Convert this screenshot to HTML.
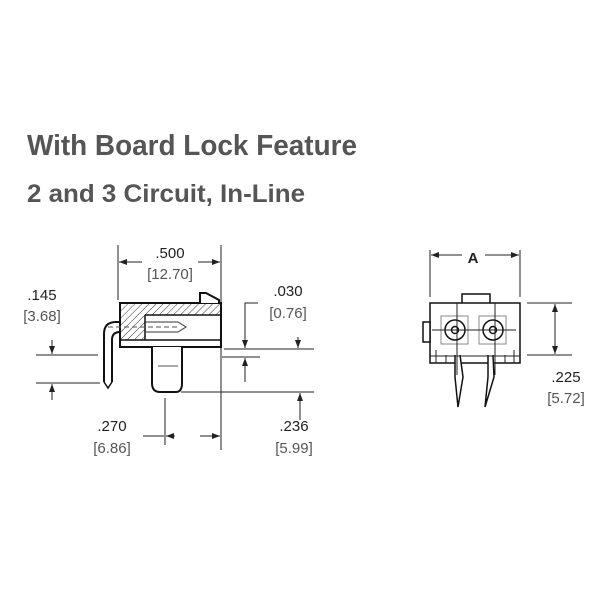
<!DOCTYPE html>
<html><head><style>body{margin:0;background:#fff}svg{display:block}</style></head><body>
<svg width="600" height="600" xmlns="http://www.w3.org/2000/svg" font-family="Liberation Sans, sans-serif">
<defs>
<pattern id="h" width="5" height="5" patternUnits="userSpaceOnUse" patternTransform="rotate(45)"><line x1="0" y1="0" x2="0" y2="5" stroke="#333" stroke-width="1"/></pattern>
<marker id="a" markerWidth="8" markerHeight="6" refX="8" refY="3" orient="auto"><path d="M0,0 L8,3 L0,6z" fill="#222"/></marker>
</defs>
<text x="27" y="155" font-size="29" font-weight="bold" fill="#555" textLength="330" lengthAdjust="spacingAndGlyphs" font-family="Liberation Sans Narrow, Liberation Sans, sans-serif">With Board Lock Feature</text>
<text x="27" y="202" font-size="25" font-weight="bold" fill="#555" textLength="278" lengthAdjust="spacingAndGlyphs" font-family="Liberation Sans Narrow, Liberation Sans, sans-serif">2 and 3 Circuit, In-Line</text>
<g stroke="#222" stroke-width="1" fill="none">
<!-- left view dims -->
<line x1="118" y1="245" x2="118" y2="300"/><line x1="221" y1="245" x2="221" y2="450"/>
<line x1="142" y1="262" x2="119" y2="262" marker-end="url(#a)"/><line x1="198" y1="262" x2="220" y2="262" marker-end="url(#a)"/>
<line x1="36" y1="355" x2="98" y2="355"/><line x1="36" y1="383" x2="100" y2="383"/>
<line x1="52" y1="340" x2="52" y2="354" marker-end="url(#a)"/><line x1="52" y1="400" x2="52" y2="384" marker-end="url(#a)"/>
<line x1="224" y1="349" x2="314" y2="349"/><line x1="222" y1="357" x2="260" y2="357"/>
<polyline points="258,303 245,303 245,348" marker-end="url(#a)"/>
<line x1="245" y1="382" x2="245" y2="358" marker-end="url(#a)"/>
<line x1="298" y1="337" x2="298" y2="348" marker-end="url(#a)"/>
<line x1="181" y1="392" x2="314" y2="392"/>
<line x1="300" y1="420" x2="300" y2="393" marker-end="url(#a)"/>
<line x1="165" y1="398" x2="165" y2="445"/>
<line x1="143" y1="436" x2="164" y2="436"/>
<line x1="175" y1="436" x2="166" y2="436" marker-end="url(#a)"/><line x1="200" y1="436" x2="220" y2="436" marker-end="url(#a)"/>
</g>
<!-- housing -->
<g stroke="#111" stroke-width="2">
<rect x="120" y="303" width="101" height="44" fill="#fff"/>
<rect x="121" y="304" width="99" height="11" fill="url(#h)" stroke="none"/>
<rect x="121" y="315" width="24" height="25" fill="url(#h)" stroke="none"/>
<line x1="145" y1="315" x2="220" y2="315" stroke-width="1.5"/>
<line x1="145" y1="315" x2="145" y2="340" stroke-width="1.5"/>
<line x1="120" y1="340" x2="220" y2="340" stroke-width="1.5"/>
<path d="M200,303 L200,293 L206,293 L219,300 L219,303" fill="#fff"/>
<path d="M152,347 L152,383 Q152,392 160,392 L176,392 Q182,392 182,383 L182,347" fill="#fff"/>
<path d="M104,382 L104,334 Q104,322 116,322 L120,322 M112,382 L112,340 Q112,332 120,332" fill="none"/>
<path d="M104,382 L108,388 L112,382" fill="none" stroke-width="1.5"/>
</g>
<line x1="108" y1="327" x2="180" y2="327" stroke="#555" stroke-dasharray="5,3"/>
<path d="M145,322 L178,322 L186,327 L178,332 L145,332" fill="none" stroke="#333"/>
<line x1="158" y1="366" x2="178" y2="366" stroke="#555" stroke-width="1"/>
<g font-size="15" fill="#222" text-anchor="middle">
<text x="170" y="258">.500</text><text x="170" y="279" fill="#555">[12.70]</text>
<text x="42" y="300">.145</text><text x="42" y="321" fill="#555">[3.68]</text>
<text x="288" y="296">.030</text><text x="288" y="318" fill="#555">[0.76]</text>
<text x="112" y="431">.270</text><text x="112" y="453" fill="#555">[6.86]</text>
<text x="294" y="431">.236</text><text x="294" y="453" fill="#555">[5.99]</text>
<text x="566" y="382">.225</text><text x="566" y="403" fill="#555">[5.72]</text>
<text x="473" y="263" font-weight="bold">A</text>
</g>
<!-- right view -->
<g stroke="#222" stroke-width="1" fill="none">
<line x1="430" y1="250" x2="430" y2="297"/><line x1="520" y1="250" x2="520" y2="297"/>
<line x1="462" y1="255" x2="431" y2="255" marker-end="url(#a)"/><line x1="485" y1="255" x2="519" y2="255" marker-end="url(#a)"/>
<line x1="527" y1="303" x2="572" y2="303"/><line x1="527" y1="355" x2="572" y2="355"/>
<line x1="555" y1="330" x2="555" y2="304" marker-end="url(#a)"/><line x1="555" y1="330" x2="555" y2="354" marker-end="url(#a)"/>
</g>
<g stroke="#111" stroke-width="1.5" fill="#fff">
<rect x="462" y="294" width="28" height="10"/>
<rect x="430" y="303" width="90" height="60"/>
<rect x="423" y="322" width="7" height="20"/>
<rect x="441" y="316" width="27" height="28" stroke="#888" stroke-width="1"/>
<rect x="479" y="316" width="27" height="28" stroke="#888" stroke-width="1"/>
<circle cx="455" cy="330" r="10"/><circle cx="493" cy="330" r="10"/>
<circle cx="455" cy="330" r="3.5"/><circle cx="493" cy="330" r="3.5"/>
<path d="M455,355 L455,377 L458,407 L463,377 L460,355 M488,355 L488,377 L485,407 L494,377 L493,355" fill="#fff"/>
</g>
<g stroke="#222" stroke-width="1">
<line x1="432" y1="330" x2="516" y2="330"/>
<line x1="457" y1="303" x2="457" y2="375"/><line x1="495" y1="303" x2="495" y2="375"/>
<line x1="436" y1="350" x2="436" y2="363"/><line x1="514" y1="350" x2="514" y2="363"/>
<line x1="446" y1="355" x2="446" y2="363"/><line x1="505" y1="355" x2="505" y2="363"/>
<line x1="430" y1="356" x2="520" y2="356"/>
</g>
</svg>
</body></html>
